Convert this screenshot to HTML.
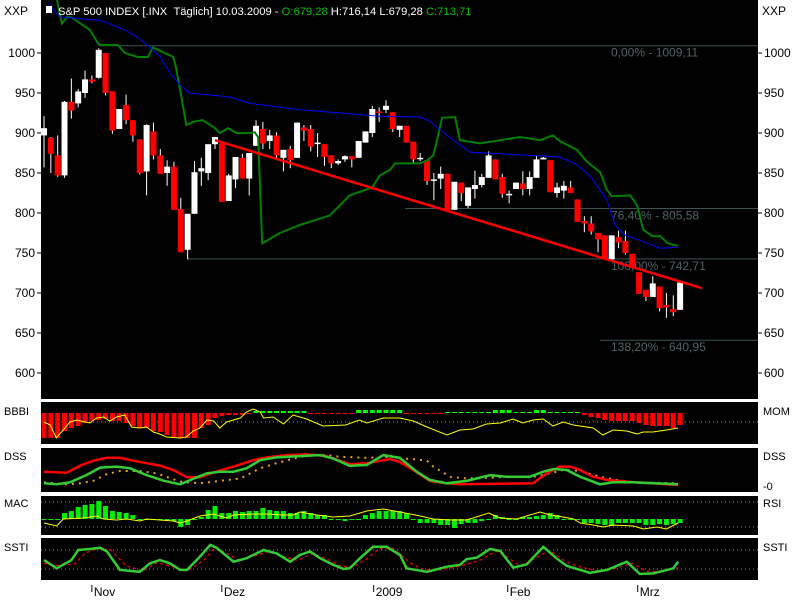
<!DOCTYPE html>
<html><head><meta charset="utf-8"><style>
html,body{margin:0;padding:0;background:#fff;}
svg{display:block;font-family:"Liberation Sans",sans-serif;}
</style></head><body>
<svg id="c" width="800" height="600" viewBox="0 0 800 600">
<rect x="0" y="0" width="800" height="600" fill="#fff"/>
<rect x="41" y="0" width="717" height="399" fill="#000"/>
<rect x="41" y="402" width="717" height="42" fill="#000"/>
<rect x="41" y="448" width="717" height="44" fill="#000"/>
<rect x="41" y="496" width="717" height="39" fill="#000"/>
<rect x="41" y="538" width="717" height="42" fill="#000"/>
<g id="layer"></g>
<rect x="46" y="6" width="6" height="7" fill="#fff"/>
<text x="58" y="15" font-size="11.2" fill="#fff">S&amp;P 500 INDEX [.INX &#160;Täglich] 10.03.2009 - <tspan fill="#00c000">O:679,28</tspan> H:716,14 L:679,28 <tspan fill="#00c000">C:713,71</tspan></text>
<text x="4" y="15" font-size="12" fill="#000">XXP</text>
<text x="762" y="15" font-size="12" fill="#000">XXP</text>
<text x="4" y="415" font-size="11" fill="#000">BBBI</text>
<text x="4" y="460" font-size="11" fill="#000">DSS</text>
<text x="4" y="507" font-size="11" fill="#000">MAC</text>
<text x="4" y="551" font-size="11" fill="#000">SSTI</text>
<text x="763" y="415" font-size="11" fill="#000">MOM</text>
<text x="763" y="460" font-size="11" fill="#000">DSS</text>
<text x="763" y="490" font-size="11" fill="#000">-0</text>
<text x="763" y="507" font-size="11" fill="#000">RSI</text>
<text x="763" y="551" font-size="11" fill="#000">SSTI</text>
</svg>
<script>
const opens=[897,894,872,847,939,937,950,967,969,1000,952,905,935,916,892,852,902,872,850,858,805,754,799,852,850,886,887,815,842,869,843,884,905,890,897,869,880,869,907,905,887,886,872,862,867,871,869,888,900,927,929,926,904,909,889,868,866,841,843,849,804,838,809,830,835,844,867,845,822,830,837,830,844,867,866,825,828,832,817,790,787,775,772,742,770,765,749,726,704,695,708,685,680,679];
const highs=[921,895,897,940,968,955,978,972,1006,1000,952,930,948,916,892,911,913,880,866,864,819,799,865,869,886,895,887,849,870,874,875,916,914,904,901,879,884,913,910,910,900,886,872,867,872,871,890,902,934,932,941,926,909,909,889,875,866,850,858,849,839,838,832,853,849,877,867,849,828,838,852,852,872,870,866,838,840,840,817,796,796,775,772,772,778,778,749,726,704,721,708,700,697,716];
const lows=[857,850,845,844,918,932,944,962,968,947,899,905,911,889,848,822,867,849,834,804,751,742,799,834,841,880,814,815,831,843,822,884,880,880,866,852,856,869,890,877,870,859,856,860,864,857,869,888,895,914,925,901,895,888,863,865,835,816,830,804,804,815,806,818,832,844,842,819,812,830,822,822,844,867,826,819,818,825,789,776,773,751,742,742,756,748,732,699,690,695,677,669,671,679];
const closes=[906,874,847,939,928,952,967,964,1004,950,903,930,916,897,850,910,872,849,858,804,751,799,851,856,886,895,814,847,870,843,875,909,887,897,872,879,866,913,903,883,888,870,862,865,871,867,890,902,930,925,934,905,909,888,867,869,840,842,849,804,839,825,832,835,845,872,842,824,824,838,830,845,867,869,826,832,834,825,789,787,777,767,742,772,763,750,732,699,695,712,681,682,676,713];
const priceTicks=[1000,950,900,850,800,750,700,650,600];
const priceTickLabels=["1000","950","900","850","800","750","700","650","600"];
const greenLine=[[1.9,1066],[2.6,1037],[3.4,1045],[4.1,1044],[6.7,1029],[7.9,1012],[8.5,1010],[10.8,1010],[11.8,1000],[13.7,995],[15.2,995],[15.9,1007],[17.4,1001],[18.9,995],[19.3,982],[19.9,954],[20.8,910],[21.8,914],[23.2,916],[25,906],[25.7,900],[26.9,906],[28.1,900],[30.1,900],[30.8,901],[31.3,895],[31.9,762],[34.5,775],[37.4,785],[41.8,797],[43.3,810],[44.7,822],[48,832],[49.1,847],[50.6,854],[51.3,862],[55,862],[56.1,866],[56.9,872],[57.3,885],[58.2,919],[60.1,920],[60.8,891],[63.7,887],[66.7,891],[69.6,895],[72.5,891],[74.4,897],[75.4,890],[77.9,879],[79.4,864],[81.3,851],[82.3,829],[83,821],[85.7,822],[86.7,810],[87.6,779],[89,771],[90.1,771],[91.2,762],[92.7,759]];
const blueLine=[[0.6,1062],[2.3,1045],[8.2,1041],[11.8,1029],[13.3,1022],[14.8,1012],[15.5,1007],[17,995],[18.4,975],[19.9,960],[21.3,950],[27.2,945],[30.1,937],[37.4,929],[43.3,925],[49.1,921],[55,920],[56.4,915],[57.9,904],[59.4,894],[62.3,876],[66.7,874],[75.4,870],[77.6,862],[79.8,847],[81.3,829],[82.3,816],[83.5,785],[85,772],[87.1,766],[90.1,756],[92.7,757]];
const trendLine=[[25,891],[96.2,706]];
const fibLevels=[1009.11,805.58,742.71,640.95];
const fibStarts=[7.9,52.8,21,81.3];
const fibLabels=["0,00% - 1009,11","76,40% - 805,58","100,00% - 742,71","138,20% - 640,95"];
const bbbiBars=[-25,-25,-25,-18,-15,-13,-10,-8,-7,-6,-8,-8,-10,-13,-15,-15,-18,-19,-22,-24,-25,-25,-25,-15,-12,-5,-3,-2,-2,-2,-1,2,2,2,2,2,2,2,2,-1,-1,-1,-1,-1,-1,-1,3,3,3,3,3,3,3,-1,-1,-1,-1,-1,-1,1,1,1,1,1,1,1,3,3,3,1,1,1,3,3,1,1,1,1,1,-2,-4,-5,-7,-8,-8,-8,-8,-10,-12,-13,-13,-13,-15,-12];
const bbbiLine=[[0,0],[0.9,-3],[1.8,-16],[2.8,-8],[3.8,0],[4.8,2],[6.7,-1],[7.7,4],[8.7,5],[9.6,1],[10.6,5],[11.8,7],[12.8,-5],[14,-6],[15,-5],[16,-10],[16.9,-12],[17.9,-15],[19.9,-16],[20.8,-15],[21.8,-9],[22.8,-6],[23.8,2],[24.8,1],[25.7,-6],[26.7,0],[28.7,4],[29.6,10],[30.6,13],[31.6,10],[32.1,4],[33.5,5],[35,-2],[36.4,7],[38.4,3],[40.8,-4],[44.1,-3],[46.1,2],[47.2,-1],[49.6,4],[52,4],[54,1],[56,-5],[58.9,-13],[60.8,-8],[62.7,-7],[64.7,-2],[66.7,-1],[68.6,3],[70,-1],[71.5,2],[73,3],[74.4,-4],[75.9,0],[77.4,-3],[80.3,-6],[81.7,-13],[83.2,-8],[85.2,-9],[86.7,-12],[87.6,-10],[89,-10],[91,-8],[92.7,-6]];
const dssRed=[[0,42],[3.3,39],[5.3,60],[7.2,74],[9.2,83],[11.1,83],[13.1,74],[15,67],[16.95,60],[18.9,47],[20.9,26],[22.8,26],[24.75,40],[27.7,57],[30.6,76],[32.6,84],[35.5,91],[38.4,93],[41.3,88],[44.7,64],[47.2,67],[50.6,79],[52,71],[54,47],[56.4,15],[58.9,8],[60.8,5],[71.5,8],[73.5,37],[75.4,57],[76.9,57],[78.4,47],[80.3,27],[82.3,18],[86.2,11],[89.1,8],[92.7,3]];
const dssGreen=[[0,8],[1.85,5],[3.8,11],[6.2,32],[8.2,54],[10.6,57],[12.6,52],[15,32],[17.4,16],[19.9,5],[21.8,21],[23.8,37],[25.7,42],[27.7,42],[29.6,52],[31.6,76],[34,84],[37.4,88],[40.35,91],[42.3,81],[44.7,59],[47.2,62],[49.6,91],[52,83],[54.5,42],[56.4,18],[58.9,8],[61.8,15],[65.2,32],[67.6,27],[71,27],[73,42],[74.5,50],[76.4,47],[78.4,27],[81.3,5],[83.2,11],[86.2,11],[89.1,8],[92.7,5]];
const dssSignal=[[0,11],[3.3,5],[5.3,8],[7.2,15],[9.2,35],[11.1,44],[14,44],[16.5,37],[17.9,27],[19.9,13],[22.8,8],[25.7,15],[28.7,22],[31.6,52],[34,67],[37.4,86],[40.35,93],[43.3,86],[47.2,83],[51.1,86],[52.05,81],[54,79],[56,74],[56.9,57],[59.4,27],[61.8,22],[64.7,24],[68.1,27],[71.5,27],[73.5,35],[75.9,47],[78.4,44],[81.3,27],[83.7,18],[86.2,11],[92.7,8]];
const macBars=[0,0,0,6,8,12,14,15,18,13,8,7,6,4,0,-1,0,0,0,-2,-8,-6,-1,2,9,13,6,6,8,7,8,8,11,9,8,8,6,6,8,6,4,4,0,-1,-2,0,0,4,6,8,8,8,8,6,0,-4,-4,-4,-6,-6,-9,-5,-4,-4,-2,0,4,2,0,0,2,2,3,4,6,4,0,0,0,-4,-4,-5,-6,-7,-4,-4,-4,-4,-6,-6,-5,-6,-5,-4];
const macLine=[[0,-4],[1.85,-7],[2.8,0],[5.75,1],[7.7,3],[8.7,0],[10.6,-1],[12.1,0],[14,-2],[15,0],[16.95,-1],[18.9,-2],[19.9,-4],[20.9,-2],[22.8,3],[24.75,5],[26.7,1],[27.7,4],[30.6,5],[32.6,5],[35,4],[36.45,4],[37.4,7],[39.9,4],[42.3,2],[44.7,3],[47.2,8],[49.6,10],[52,7],[55,3],[56.9,0],[59.4,-1],[61.8,-1],[65,6],[66.7,1],[69.1,0],[72.5,7],[74,4],[75.9,2],[77.4,0],[78.4,-4],[80.3,-6],[81.8,-8],[83.2,-6],[86.2,-7],[87.6,-10],[89.6,-8],[91,-10],[92.7,-4]];
const sstiGreen=[[0,48],[1.85,22],[4,48],[5,80],[6.7,83],[8.2,87],[9.2,75],[11.1,17],[14,11],[15.5,38],[16.95,48],[18.4,38],[19.9,17],[20.9,17],[22.8,59],[24.3,96],[25.2,87],[27.7,43],[29.6,54],[32.1,80],[34,69],[36,43],[37.4,64],[38.9,75],[40.35,54],[42.3,33],[43.8,20],[44.7,22],[46.2,54],[48.1,90],[50.1,90],[52.05,64],[53,22],[56,11],[58.9,27],[60.8,33],[61.8,51],[63.3,56],[65.2,83],[66.7,77],[68.6,24],[70.6,35],[73,90],[74.9,54],[76.4,30],[79.8,8],[82.3,17],[85.2,43],[87.1,4],[89.1,6],[92,22],[92.7,43]];
const sstiSignal=[[0,38],[2.3,30],[4.5,36],[6,70],[7.7,83],[9.7,82],[12,30],[14.5,14],[16.5,40],[19,26],[21,14],[23.3,46],[25,88],[26.7,70],[28.5,47],[30.6,60],[33,76],[35,60],[37,47],[39.3,68],[41.3,52],[43.3,30],[45,24],[47,48],[49,84],[51,86],[53.5,40],[55,22],[57,14],[60,25],[62.3,38],[64,50],[66,76],[67.6,60],[69.6,30],[71.5,50],[73.9,80],[75.9,48],[78,28],[81,14],[83.2,20],[86,38],[88,14],[90,10],[92.7,24]];

const NS="http://www.w3.org/2000/svg";
const L=document.getElementById('layer');
function mk(tag,attrs,parent){const e=document.createElementNS(NS,tag);for(const k in attrs)e.setAttribute(k,attrs[k]);(parent||L).appendChild(e);return e;}
function xOf(i){return 44+i*6.84;}
function yP(p){return 53+(1000-p)*0.8;}
function yBB(v){return 422-v;}
function yBar(v){return 413-v;}
function yDSS(v){return 486-v*0.34;}
function yMAC(v){return 519-v;}
function ySS(v){return 575.3-v*0.3167;}
function poly(pts,fy,attrs,name){
  const d=pts.map(p=>xOf(p[0]).toFixed(1)+','+fy(p[1]).toFixed(1)).join(' ');
  const e=mk('polyline',Object.assign({points:d,fill:'none'},attrs));
  
  
  return e;
}
const defs=mk('defs',{});
const cp=mk('clipPath',{id:'mainclip'},defs);
mk('rect',{x:41,y:0,width:717,height:399},cp);
const main=mk('g',{'clip-path':'url(#mainclip)'});


priceTicks.forEach((p,k)=>{
  const y=yP(p);
  const t1=mk('line',{x1:37,x2:41,y1:y,y2:y,stroke:'#000'});
  
  
  const t2=mk('line',{x1:758,x2:762,y1:y,y2:y,stroke:'#000'});
  
  
  const a=mk('text',{x:35,y:y+4,'font-size':12,'text-anchor':'end',fill:'#000'});a.textContent=priceTickLabels[k];
  
  
  const b=mk('text',{x:764,y:y+4,'font-size':12,fill:'#000'});b.textContent=priceTickLabels[k];
  
  
});
fibLevels.forEach((f,k)=>{
  const y=yP(f);
  const l=mk('line',{x1:xOf(fibStarts[k]),x2:758,y1:y,y2:y,stroke:'#3c5454','stroke-width':1},main);
  
  
  const t=mk('text',{x:611,y:y+11,'font-size':12,fill:'#4f6464'},main);t.textContent=fibLabels[k];
  
  
});
opens.forEach((o,i)=>{
  const c=closes[i],x=xOf(i),up=c>=o;
  const col=up?'#fff':'#f00';
  const w=mk('line',{x1:x,x2:x,y1:yP(highs[i]),y2:yP(lows[i]),stroke:'#fff','stroke-width':1},main);
  
  
  const top=yP(Math.max(o,c)),bot=yP(Math.min(o,c));
  const r=mk('rect',{x:x-3,y:top,width:6,height:Math.max(1.5,bot-top),fill:col},main);
  
  
});
const gl=poly(greenLine,yP,{stroke:'#008000','stroke-width':2},'green-indicator-line');main.appendChild(gl);
const bl=poly(blueLine,yP,{stroke:'#0000ff','stroke-width':1},'moving-average-line');main.appendChild(bl);
const tl=poly(trendLine,yP,{stroke:'#ff0000','stroke-width':2.5},'trend-line');main.appendChild(tl);
const z1=mk('line',{x1:41,x2:758,y1:422,y2:422,stroke:'#888','stroke-dasharray':'1,3'});


bbbiBars.forEach((v,i)=>{
  const r=mk('rect',{x:xOf(i)-2.5,y:v>=0?yBar(v):413,width:5,height:Math.max(1,Math.abs(v)),fill:v>=0?'#00ff00':'#ff0000'});
  
  
});
poly(bbbiLine,yBB,{stroke:'#ffff00','stroke-width':1},'mom-line');
poly(dssSignal,yDSS,{stroke:'#e8a020','stroke-width':2,'stroke-dasharray':'2,5'},'dss-signal-line');
poly(dssRed,yDSS,{stroke:'#ff0000','stroke-width':2.5},'dss-red-line');
poly(dssGreen,yDSS,{stroke:'#33cc33','stroke-width':2.5},'dss-green-line');
[502,527].forEach(y=>{const l=mk('line',{x1:41,x2:758,y1:y,y2:y,stroke:'#888','stroke-dasharray':'1,3'});
  
  });
macBars.forEach((v,i)=>{
  const r=mk('rect',{x:xOf(i)-2.5,y:v>=0?yMAC(v):519,width:5,height:Math.max(1,Math.abs(v)),fill:'#00ee00'});
  
  
});
poly(macLine,yMAC,{stroke:'#ffff00','stroke-width':1},'rsi-line');
[550,569].forEach(y=>{const l=mk('line',{x1:41,x2:758,y1:y,y2:y,stroke:'#888','stroke-dasharray':'1,3'});
  
  });
poly(sstiSignal,ySS,{stroke:'#ff0000','stroke-width':1.2,'stroke-dasharray':'3,3'},'ssti-signal-line');
poly(sstiGreen,ySS,{stroke:'#33cc33','stroke-width':2.5},'ssti-green-line');
const months=[["Nov",7],["Dez",26],["2009",48.2],["Feb",67.8],["Mrz",86.8]];
months.forEach(m=>{
  const x=xOf(m[1]);
  const t=mk('line',{x1:x,x2:x,y1:585,y2:592,stroke:'#000'});
  
  
  const tx=mk('text',{x:x+2,y:596,'font-size':12,fill:'#000'});tx.textContent=m[0];
  
  
});
</script>
</body></html>
